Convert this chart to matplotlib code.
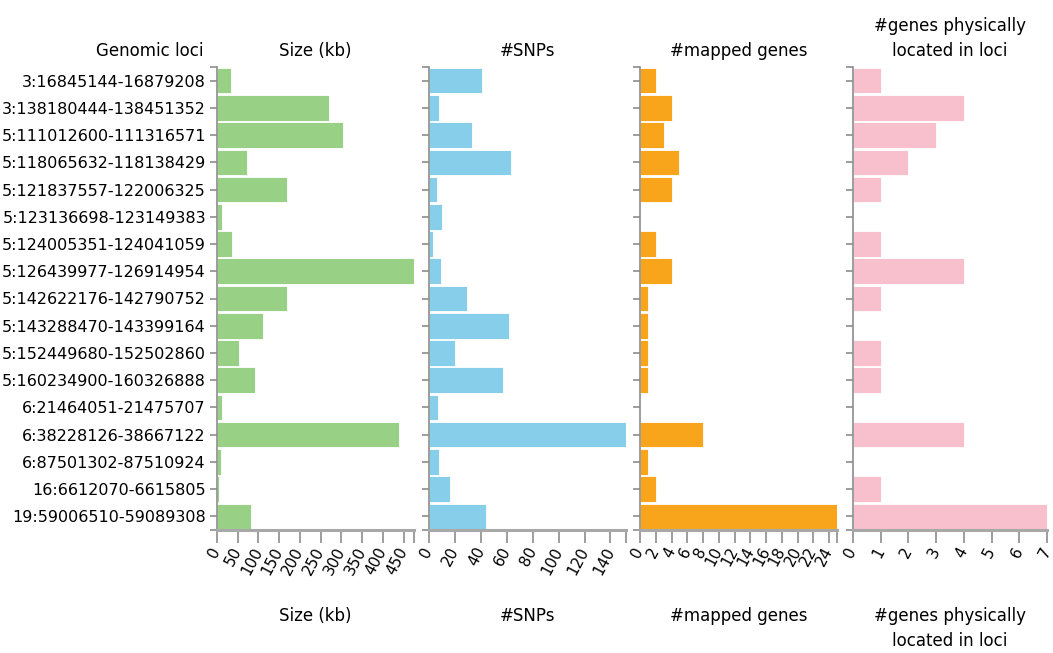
import matplotlib.pyplot as plt

# Genomic loci, top to bottom
loci = [
    "3:16845144-16879208",
    "3:138180444-138451352",
    "5:111012600-111316571",
    "5:118065632-118138429",
    "5:121837557-122006325",
    "5:123136698-123149383",
    "5:124005351-124041059",
    "5:126439977-126914954",
    "5:142622176-142790752",
    "5:143288470-143399164",
    "5:152449680-152502860",
    "5:160234900-160326888",
    "6:21464051-21475707",
    "6:38228126-38667122",
    "6:87501302-87510924",
    "16:6612070-6615805",
    "19:59006510-59089308",
]

size_kb = [34.1, 270.9, 304.0, 72.8, 168.8, 12.7, 35.7, 475.0, 168.6,
           110.7, 53.2, 92.0, 11.7, 439.0, 9.6, 3.7, 82.8]
n_snps = [41, 8, 33, 63, 6, 10, 3, 9, 29, 62, 20, 57, 7, 152, 8, 16, 44]
n_mapped = [2, 4, 3, 5, 4, 0, 2, 4, 1, 1, 1, 1, 0, 8, 1, 2, 25]
n_physical = [1, 4, 3, 2, 1, 0, 1, 4, 1, 0, 1, 1, 0, 4, 0, 1, 7]

panels = [
    (size_kb, "Size (kb)", "#98d086", list(range(0, 451, 50))),
    (n_snps, "#SNPs", "#87ceeb", list(range(0, 141, 20))),
    (n_mapped, "#mapped genes", "#f8a51c", list(range(0, 25, 2))),
    (n_physical, "#genes physically\nlocated in loci", "#f8bfcc", list(range(0, 8))),
]

W, H = 1053, 653
fig = plt.figure(figsize=(W / 100, H / 100), dpi=100)

lefts = [217, 429, 640, 853]
widths = [197, 197, 197, 194]
top, bottom = 67, 530
axis_grey = "#8c8c8c"

ypos = list(range(len(loci)))

for i, (vals, title, color, ticks) in enumerate(panels):
    pw = widths[i]
    ax = fig.add_axes([lefts[i] / W, 1 - bottom / H, pw / W, (bottom - top) / H])
    ax.barh(ypos, vals, height=0.94, color=color, edgecolor="white", linewidth=0.6)
    xmax = max(vals)
    ax.set_xlim(0, xmax)
    ax.set_ylim(len(loci) - 0.5, -0.5)

    ax.spines["top"].set_visible(False)
    ax.spines["right"].set_visible(False)
    ax.spines["left"].set_color(axis_grey)
    ax.spines["left"].set_linewidth(1.2)
    ax.spines["bottom"].set_color("#a8a8a8")
    ax.spines["bottom"].set_linewidth(2.2)

    ax.set_yticks(ypos)
    if i == 0:
        ax.set_yticklabels(loci, fontsize=11.5)
    else:
        ax.set_yticklabels([])
    ax.set_yticks([-0.5, len(loci) - 0.5], minor=True)
    ax.tick_params(axis="y", which="both", length=5, width=1.2, color=axis_grey, pad=3)

    ax.set_xticks(ticks)
    ax.set_xticklabels([str(t) for t in ticks], fontsize=11, rotation=62,
                       ha="right", va="center", rotation_mode="anchor")
    ax.set_xticks([xmax], minor=True)
    ax.tick_params(axis="x", which="both", length=9, width=1.2, color=axis_grey, pad=4)

    cx = (lefts[i] + pw / 2) / W
    fig.text(cx, 1 - 60 / H, title, ha="center", va="bottom", fontsize=12,
             multialignment="center", linespacing=1.5)
    fig.text(cx, 1 - 607 / H, title, ha="center", va="top", fontsize=12,
             multialignment="center", linespacing=1.5)

fig.text(203 / W, 1 - 60 / H, "Genomic loci", ha="right", va="bottom", fontsize=12)

fig.savefig("out.png", dpi=100)
